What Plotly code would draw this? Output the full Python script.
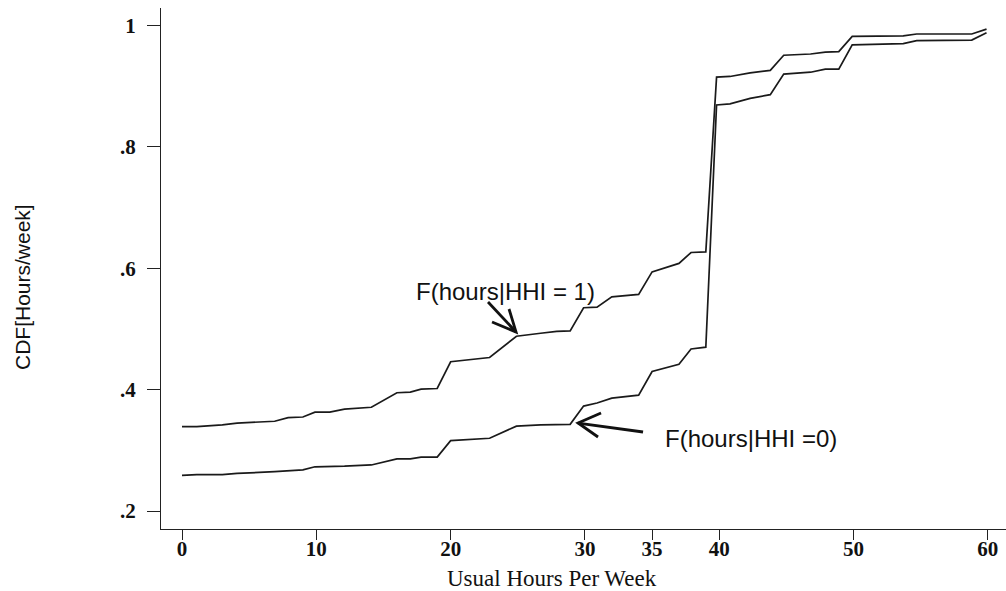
import plotly.graph_objects as go

# Usual hours per week (x) and CDF values for the two groups
hours = [0, 1.1, 3.0, 4.1, 6.9, 7.9, 9.0, 9.9, 11.0, 12.1, 14.1, 16.0, 17.0, 17.8, 19.0,
         20.0, 22.9, 24.9, 26.7, 27.9, 28.9, 29.9, 30.9, 32.0, 34.0, 35.0, 37.0, 37.9,
         39.0, 39.8, 40.8, 42.3, 43.8, 44.8, 46.8, 47.9, 48.9, 49.9, 53.7, 54.7, 58.8, 59.9]
cdf_hhi1 = [0.339, 0.339, 0.342, 0.345, 0.348, 0.354, 0.355, 0.363, 0.363, 0.368, 0.371,
            0.395, 0.396, 0.401, 0.402, 0.446, 0.453, 0.488, 0.493, 0.496, 0.497, 0.535,
            0.536, 0.553, 0.557, 0.594, 0.608, 0.626, 0.627, 0.915, 0.916, 0.922, 0.926,
            0.951, 0.953, 0.956, 0.957, 0.982, 0.983, 0.986, 0.986, 0.994]
cdf_hhi0 = [0.259, 0.260, 0.260, 0.262, 0.265, 0.266, 0.268, 0.273, 0.273, 0.274, 0.276,
            0.286, 0.286, 0.289, 0.289, 0.316, 0.320, 0.340, 0.342, 0.343, 0.343, 0.373,
            0.378, 0.386, 0.391, 0.430, 0.442, 0.467, 0.470, 0.869, 0.871, 0.880, 0.886,
            0.920, 0.923, 0.928, 0.928, 0.968, 0.970, 0.975, 0.976, 0.988]

x_ticks = [0, 10, 20, 30, 35, 40, 50, 60]
y_ticks = [0.2, 0.4, 0.6, 0.8, 1.0]
y_tick_labels = [".2", ".4", ".6", ".8", "1"]

line_color = "#1a1a1a"
fig = go.Figure()
fig.add_trace(go.Scatter(x=hours, y=cdf_hhi1, mode="lines",
                         line=dict(color=line_color, width=1.7), showlegend=False))
fig.add_trace(go.Scatter(x=hours, y=cdf_hhi0, mode="lines",
                         line=dict(color=line_color, width=1.7), showlegend=False))

fig.update_xaxes(range=[-1.564, 61.35], tickvals=x_ticks, ticktext=[str(v) for v in x_ticks],
                 ticks="outside", ticklen=10, tickwidth=1.2, tickcolor="#222",
                 showline=True, linecolor="#222", linewidth=1.2, showgrid=False,
                 zeroline=False, ticklabelstandoff=-9,
                 tickfont=dict(family="Liberation Serif", size=21, color="#111", weight="bold"))
fig.update_yaxes(range=[0.1705, 1.0288], tickvals=y_ticks, ticktext=y_tick_labels,
                 ticks="outside", ticklen=13, tickwidth=1.2, tickcolor="#222",
                 showline=True, linecolor="#222", linewidth=1.2, showgrid=False,
                 zeroline=False, ticklabelstandoff=7,
                 tickfont=dict(family="Liberation Serif", size=21, color="#111", weight="bold"))

annotations = [
    dict(text="Usual Hours Per Week", xref="paper", yref="paper",
         x=(552 - 161) / 845, y=-(578 - 529) / 521, showarrow=False,
         xanchor="center", yanchor="middle",
         font=dict(family="Liberation Serif", size=23, color="#111")),
    dict(text="CDF[Hours/week]", xref="paper", yref="paper",
         x=-(161 - 22) / 845, y=(529 - 287) / 521, showarrow=False, textangle=-90,
         xanchor="center", yanchor="middle",
         font=dict(family="Liberation Sans", size=21, color="#111")),
    dict(text="F(hours|HHI = 1)", x=24.05, y=0.561, showarrow=False,
         xanchor="center", yanchor="middle",
         font=dict(family="Liberation Sans", size=24, color="#111")),
    dict(text="F(hours|HHI =0)", x=42.37, y=0.319, showarrow=False,
         xanchor="center", yanchor="middle",
         font=dict(family="Liberation Sans", size=24, color="#111")),
]
fig.update_layout(annotations=annotations)

def px2x(px):
    return (px - 182) / 13.43

def py2y(py):
    return 1 - (py - 25.5) / 607

arrow_paths = [
    # upper arrow: shaft + two head arms
    [(488, 302), (516, 332)],
    [(509, 309), (516, 332), (492, 322)],
    # lower arrow
    [(643, 432), (578, 423)],
    [(601, 413), (578, 423), (598, 437)],
]
for pts in arrow_paths:
    d = "M " + " L ".join(f"{px2x(a):.3f},{py2y(b):.4f}" for a, b in pts)
    fig.add_shape(type="path", path=d, xref="x", yref="y",
                  line=dict(color="#111", width=2.8))

fig.update_layout(width=1006, height=591, margin=dict(l=161, r=0, t=8, b=62),
                  plot_bgcolor="white", paper_bgcolor="white")

fig.write_html("out.html")
